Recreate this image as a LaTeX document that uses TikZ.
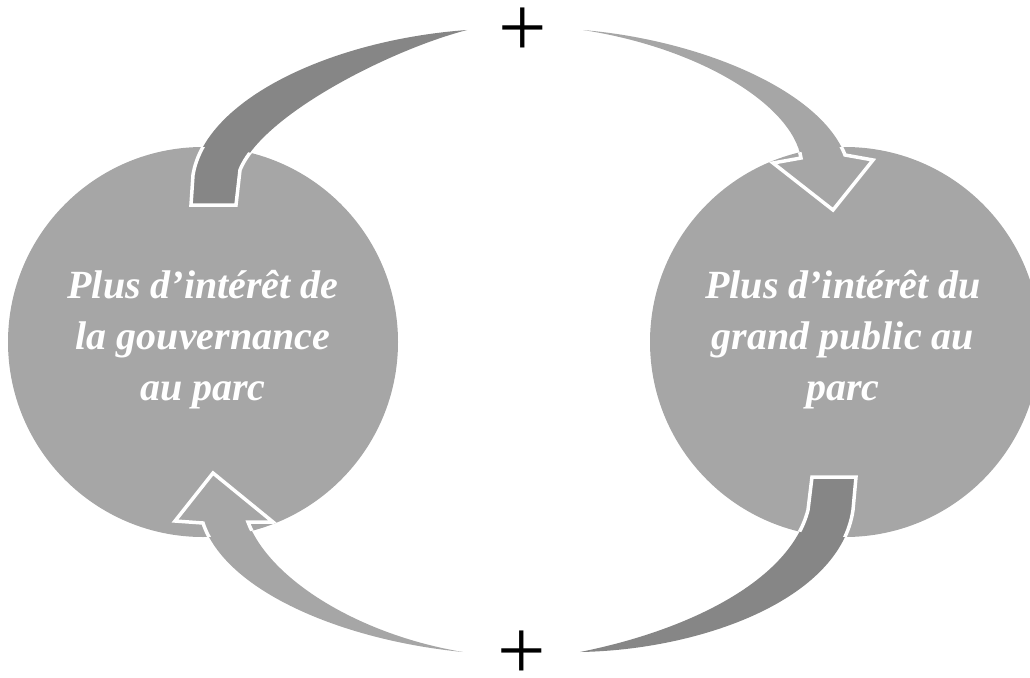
\documentclass[tikz,border=0pt]{standalone}
\usepackage{fontspec}
\setmainfont{Liberation Serif}
\newfontfamily\plusfont{Liberation Serif}
\definecolor{lightg}{HTML}{A6A6A6}
\definecolor{darkg}{HTML}{868686}
\begin{document}
\begin{tikzpicture}[x=1pt,y=-1pt,
  bubble/.style={circle, fill=lightg, minimum size=390pt, inner sep=0pt, align=center,
    text=white, font=\fontsize{40}{51}\selectfont\bfseries\itshape},
  outline/.style={draw=white, line width=3.5pt, line join=miter},
  sign/.style={inner sep=0pt, font=\plusfont\fontsize{86}{86}\selectfont}]
\useasboundingbox (0,0) rectangle (1030,677);
\def\arrTL{(191,205) -- (193,175) .. controls (205,100) and (330,40) .. (467,30)
  .. controls (390,50) and (262,115) .. (240,170) -- (236,205) -- cycle}
\def\arrTR{(583,30) .. controls (700,40) and (820,90) .. (845,155)
  -- (873,160) -- (833,210) -- (773,163) -- (801,158)
  .. controls (792,105) and (700,48) .. (583,30) -- cycle}
\def\arrBR{(812,477) -- (856,477) -- (853,510)
  .. controls (840,600) and (700,650) .. (580,652)
  .. controls (690,630) and (790,580) .. (808,510) -- cycle}
\def\arrBL{(463,652) .. controls (340,640) and (225,590) .. (203,523)
  -- (175,521) -- (213,473) -- (273,522) -- (248,522)
  .. controls (270,580) and (360,635) .. (463,652) -- cycle}
\begin{scope}
\clip (0,0) rectangle (1030,677);
\node[bubble] (L) at (203,342) {};
\node[bubble] (R) at (845,342) {};
\fill[darkg] \arrTL;
\fill[lightg] \arrTR;
\fill[darkg] \arrBR;
\fill[lightg] \arrBL;
\begin{scope}
\clip (203,342) circle (195pt) (845,342) circle (195pt);
\draw[outline] \arrTL;
\draw[outline] \arrTR;
\draw[outline] \arrBR;
\draw[outline] \arrBL;
\end{scope}
\end{scope}
\node[bubble, fill=none] (Ltext) at (203,340) {Plus d’intérêt de\\la gouvernance\\au parc};
\node[bubble, fill=none] (Rtext) at (843,340) {Plus d’intérêt du\\grand public au\\parc};
\node[sign] (ptop) at (523,32) {+};
\node[sign] (pbot) at (522,655) {+};
\end{tikzpicture}
\end{document}
